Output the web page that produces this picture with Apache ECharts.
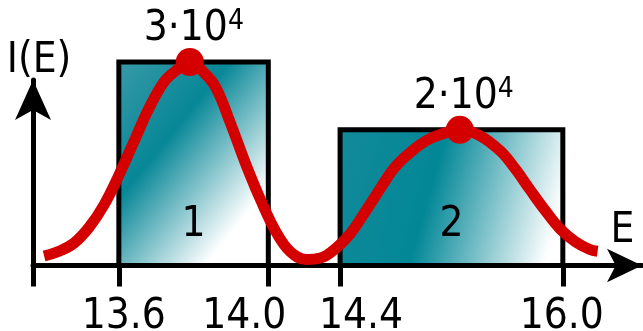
<!DOCTYPE html>
<html>
<head>
<meta charset="utf-8">
<script src="https://cdn.jsdelivr.net/npm/echarts@6/dist/echarts.min.js"></script>
<style>
  html, body { margin: 0; padding: 0; background: #ffffff; }
  #chart { width: 643px; height: 331px; }
</style>
</head>
<body>
<div id="chart"></div>
<script>
// Energy bins (lower, upper edge) and their counts
const binLower = [13.6, 14.4];
const binUpper = [14.0, 16.0];
const binCounts = [30000, 20000];
const binNames = ['1', '2'];

// Peak positions of the spectrum and their intensities
const peakEnergy = [13.79, 15.26];
const peakIntensity = [30000, 20000];

// Spectrum I(E)
const curveEnergy = [13.40, 13.44, 13.48, 13.52, 13.56, 13.60, 13.64, 13.68, 13.72, 13.75,
  13.79, 13.83, 13.86, 13.90, 13.94, 13.98, 14.04, 14.12, 14.21, 14.29,
  14.37, 14.47, 14.58, 14.69, 14.79, 14.90, 15.01, 15.12, 15.26, 15.40,
  15.55, 15.66, 15.76, 15.87, 15.98, 16.09, 16.19, 16.25];
const curveIntensity = [1400, 2100, 3300, 5600, 8900, 13300, 18200, 23100, 27000, 28600,
  30000, 28300, 26200, 20800, 14900, 9600, 5100, 2100, 900, 1100,
  2400, 4600, 7900, 11400, 14400, 16600, 18300, 19300, 20000, 19200,
  16900, 14200, 11300, 8200, 5400, 3500, 2400, 2100];

// Tick energies and tick labels
const tickEnergy = [13.6, 14.0, 14.4, 16.0];
const tickLabels = ['13.6', '14.0', '14.4', '16.0'];

// Schematic (non-uniform) energy axis: where each tick energy sits on the drawn axis
const axisStops = [1.16, 3.18, 4.15, 7.16];
// Horizontal nudge of each tick label (px) so neighbouring labels do not collide
const tickLabelNudge = [5, -24, 21, -1];

function toAxis(e) {
  const n = tickEnergy.length;
  let i = 0;
  if (e >= tickEnergy[n - 1]) i = n - 2;
  else if (e > tickEnergy[0]) { while (e > tickEnergy[i + 1]) i++; }
  const t = (e - tickEnergy[i]) / (tickEnergy[i + 1] - tickEnergy[i]);
  return axisStops[i] + t * (axisStops[i + 1] - axisStops[i]);
}

function sciLabel(v) {
  const exp = Math.floor(Math.log10(v));
  const mant = Math.round(v / Math.pow(10, exp));
  return '{m|' + mant + '\u00b710}{e|' + exp + '}';
}

const FONT = '"DejaVu Sans Condensed", "DejaVu Sans"';
const FS = 42;
const RED = '#d40000';

// Fill of each bin box
const boxFills = [
  new echarts.graphic.LinearGradient(0, 0, 1, 0.6, [
    { offset: 0, color: '#3a9aa8' },
    { offset: 0.45, color: '#078797' },
    { offset: 1, color: '#ffffff' }
  ]),
  new echarts.graphic.LinearGradient(0, 0, 1, 0.46, [
    { offset: 0, color: '#138a9a' },
    { offset: 0.45, color: '#028797' },
    { offset: 1, color: '#ffffff' }
  ])
];

const tickRich = {};
tickLabelNudge.forEach(function (d, i) {
  tickRich['t' + i] = {
    fontFamily: FONT, fontSize: FS, color: '#000',
    padding: d >= 0 ? [0, 0, 0, 2 * d] : [0, -2 * d, 0, 0]
  };
});

const chart = echarts.init(document.getElementById('chart'), null, { renderer: 'canvas' });

const option = {
  backgroundColor: '#ffffff',
  animation: false,
  grid: [
    { left: 33, right: 1, top: 62, bottom: 65.5, outerBoundsMode: 'none', containLabel: false },
    { left: 33, right: 1, top: 80, bottom: 65.5, outerBoundsMode: 'none', containLabel: false }
  ],
  xAxis: [
    {
      type: 'value', gridIndex: 0, min: 0, max: 8.23,
      name: 'E', nameLocation: 'end', nameGap: -19.5,
      nameTextStyle: { fontFamily: FONT, fontSize: FS, color: '#000', align: 'center', verticalAlign: 'bottom', padding: [0, 0, 13, 0] },
      axisLine: { show: true, symbol: ['none', 'arrow'], symbolSize: [25, 35], lineStyle: { color: '#000', width: 5 } },
      axisTick: { show: true, customValues: [0].concat(tickEnergy.map(toAxis)), length: 21, lineStyle: { color: '#000', width: 5 } },
      axisLabel: {
        show: true, customValues: tickEnergy.map(toAxis), margin: 31,
        fontFamily: FONT, fontSize: FS, color: '#000',
        formatter: function (v) {
          let best = 0;
          tickEnergy.forEach(function (e, i) { if (Math.abs(toAxis(e) - v) < Math.abs(toAxis(tickEnergy[best]) - v)) best = i; });
          return '{t' + best + '|' + tickLabels[best] + '}';
        },
        rich: tickRich
      },
      splitLine: { show: false }
    },
    { type: 'value', gridIndex: 1, min: 0, max: 8.23, show: false }
  ],
  yAxis: [
    { type: 'value', gridIndex: 0, min: 0, max: 30000, show: false, splitLine: { show: false } },
    {
      type: 'value', gridIndex: 1, min: 0, max: 1,
      name: 'I(E)', nameLocation: 'end', nameGap: -2,
      nameTextStyle: { fontFamily: FONT, fontSize: FS, color: '#000', align: 'center', verticalAlign: 'bottom', padding: [0, 0, 0, 12] },
      axisLine: { show: true, symbol: ['none', 'arrow'], symbolSize: [27, 40], lineStyle: { color: '#000', width: 5 } },
      axisTick: { show: false }, axisLabel: { show: false }, splitLine: { show: false }
    }
  ],
  series: [
    {
      type: 'custom', xAxisIndex: 0, yAxisIndex: 0, z: 2,
      data: binLower.map(function (lo, i) { return [toAxis(lo), toAxis(binUpper[i]), binCounts[i], binNames[i]]; }),
      renderItem: function (params, api) {
        const topLeft = api.coord([api.value(0), api.value(2)]);
        const bottomRight = api.coord([api.value(1), 0]);
        const idx = params.dataIndex;
        return {
          type: 'group',
          children: [
            {
              type: 'rect',
              shape: { x: topLeft[0], y: topLeft[1], width: bottomRight[0] - topLeft[0], height: bottomRight[1] - topLeft[1] },
              style: { fill: boxFills[idx], stroke: '#000', lineWidth: 5 }
            },
            {
              type: 'text',
              x: (topLeft[0] + bottomRight[0]) / 2,
              y: bottomRight[1] - 19.5,
              style: { text: binNames[idx], fontFamily: FONT, fontSize: FS, fill: '#000', align: 'center', verticalAlign: 'bottom' }
            }
          ]
        };
      }
    },
    {
      type: 'line', xAxisIndex: 0, yAxisIndex: 0, z: 3,
      data: curveEnergy.map(function (e, i) { return [toAxis(e), curveIntensity[i]]; }),
      smooth: 0.4, showSymbol: false, clip: false,
      lineStyle: { color: RED, width: 11, cap: 'butt' }
    },
    {
      type: 'scatter', xAxisIndex: 0, yAxisIndex: 0, z: 4, clip: false,
      data: peakEnergy.map(function (e, i) { return [toAxis(e), peakIntensity[i]]; }),
      symbol: 'circle', symbolSize: 28,
      itemStyle: { color: RED, opacity: 1 },
      label: {
        show: true, position: 'top', distance: -2, offset: [4, 0], color: '#000',
        formatter: function (p) { return sciLabel(p.value[1]); },
        rich: {
          m: { fontFamily: FONT, fontSize: FS, lineHeight: FS, color: '#000' },
          e: { fontFamily: FONT, fontSize: 28, lineHeight: 28, color: '#000', verticalAlign: 'top' }
        }
      }
    }
  ]
};

chart.setOption(option);
</script>
</body>
</html>
